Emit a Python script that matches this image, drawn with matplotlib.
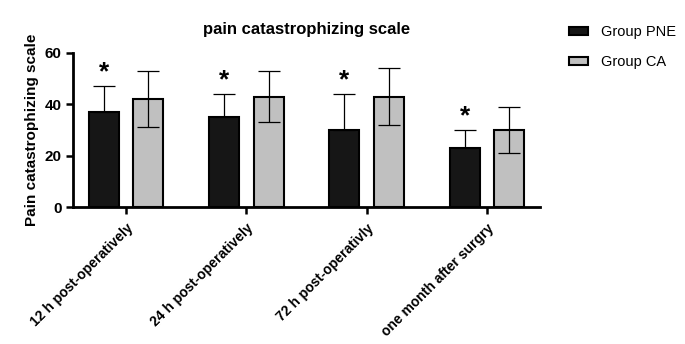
import matplotlib
matplotlib.use("Agg")
import matplotlib.pyplot as plt
import numpy as np

plt.rcParams["font.family"] = ["Liberation Sans", "DejaVu Sans"]

categories = ["12 h post-operatively", "24 h post-operatively",
              "72 h post-operativly", "one month after surgry"]
pne_mean = [37, 35, 30, 23]
pne_sd = [10, 9, 14, 7]
ca_mean = [42, 43, 43, 30]
ca_sd = [11, 10, 11, 9]
signif = [True, True, True, True]

fig = plt.figure(figsize=(6.85, 3.44), dpi=100)
ax = fig.add_axes([0.107, 0.398, 0.681, 0.448])

x = np.arange(len(categories))
w = 0.25
off = 0.185

ax.bar(x - off, pne_mean, w, color="#161616", edgecolor="black", linewidth=1.5,
       label="Group PNE", zorder=2)
ax.bar(x + off, ca_mean, w, color="#c0c0c0", edgecolor="black", linewidth=1.5,
       label="Group CA", zorder=2)

# PNE error bars only upward, CA both ways
ax.errorbar(x - off, pne_mean, yerr=[np.zeros(len(pne_sd)), pne_sd], fmt="none",
            ecolor="black", elinewidth=0.9, capsize=8, capthick=0.9, zorder=3)
ax.errorbar(x + off, ca_mean, yerr=ca_sd, fmt="none",
            ecolor="black", elinewidth=0.9, capsize=8, capthick=0.9, zorder=3)

for xi, m, s, sig in zip(x, pne_mean, pne_sd, signif):
    if sig:
        ax.text(xi - off, m + s + 0.8, "*", ha="center", va="bottom",
                fontsize=19, fontweight="bold")

ax.set_xlim(-0.44, 3.44)
ax.set_ylim(0, 60)
ax.set_yticks([0, 20, 40, 60])
ax.set_xticks(x)
ax.set_xticklabels(categories, rotation=45, ha="right", rotation_mode="anchor",
                   fontweight="bold", fontsize=10)
for lbl in ax.get_yticklabels():
    lbl.set_fontweight("bold")
    lbl.set_fontsize(11)
ax.tick_params(axis="both", width=1.8, length=5)
ax.tick_params(axis="x", pad=5)

ax.spines["top"].set_visible(False)
ax.spines["right"].set_visible(False)
ax.spines["left"].set_linewidth(2)
ax.spines["bottom"].set_linewidth(2)

ax.set_ylabel("Pain catastrophizing scale", fontweight="bold", fontsize=11)
ax.set_title("pain catastrophizing scale", fontweight="bold", fontsize=12, pad=14)

fig.legend(loc="upper left", bbox_to_anchor=(0.812, 0.965), frameon=False,
           fontsize=10.5, handlelength=1.3, handleheight=0.5, labelspacing=1.1,
           handletextpad=0.9)

fig.savefig("out.png", dpi=100)
